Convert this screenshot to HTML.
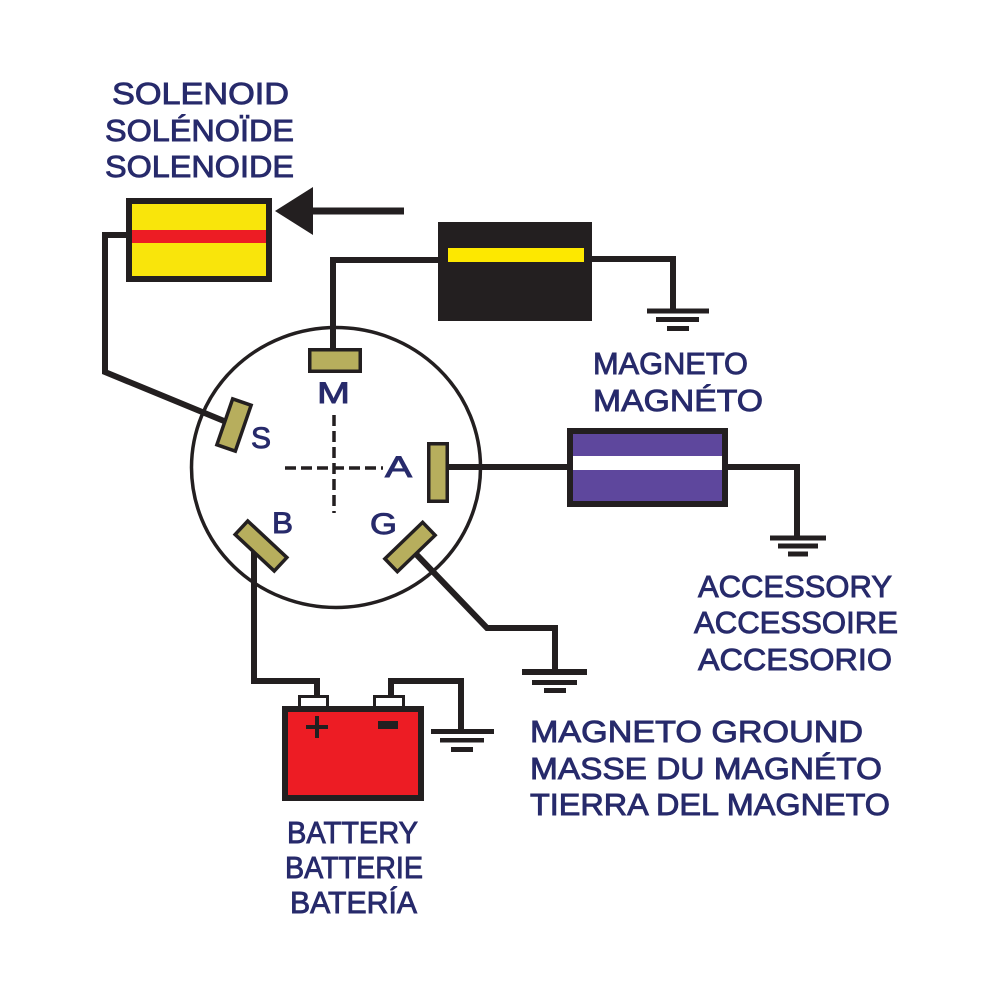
<!DOCTYPE html>
<html>
<head>
<meta charset="utf-8">
<style>
  html, body { margin:0; padding:0; background:#ffffff; }
  body { width:1000px; height:1000px; overflow:hidden; }
  svg { display:block; }
  .t { font-family:"Liberation Sans", "DejaVu Sans", sans-serif; font-size:31px; fill:#272a6b; stroke:#272a6b; stroke-width:0.9; }
  .l { font-family:"Liberation Sans", "DejaVu Sans", sans-serif; font-size:30px; fill:#272a6b; stroke:#272a6b; stroke-width:0.9; }
</style>
</head>
<body>
<svg width="1000" height="1000" viewBox="0 0 1000 1000" xmlns="http://www.w3.org/2000/svg">
  <rect x="0" y="0" width="1000" height="1000" fill="#ffffff"/>

  <!-- Labels -->
  <text class="t" x="112" y="104" textLength="177" lengthAdjust="spacingAndGlyphs">SOLENOID</text>
  <text class="t" x="105" y="141" textLength="189" lengthAdjust="spacingAndGlyphs">SOLÉNOÏDE</text>
  <text class="t" x="105" y="177" textLength="189" lengthAdjust="spacingAndGlyphs">SOLENOIDE</text>

  <text class="t" x="593" y="374" textLength="155" lengthAdjust="spacingAndGlyphs">MAGNETO</text>
  <text class="t" x="593" y="411" textLength="170" lengthAdjust="spacingAndGlyphs">MAGNÉTO</text>

  <text class="t" x="698" y="597" textLength="194" lengthAdjust="spacingAndGlyphs">ACCESSORY</text>
  <text class="t" x="694" y="633" textLength="204" lengthAdjust="spacingAndGlyphs">ACCESSOIRE</text>
  <text class="t" x="698" y="670" textLength="194" lengthAdjust="spacingAndGlyphs">ACCESORIO</text>

  <text class="t" x="530" y="742" textLength="333" lengthAdjust="spacingAndGlyphs">MAGNETO GROUND</text>
  <text class="t" x="530" y="779" textLength="352" lengthAdjust="spacingAndGlyphs">MASSE DU MAGNÉTO</text>
  <text class="t" x="530" y="815" textLength="360" lengthAdjust="spacingAndGlyphs">TIERRA DEL MAGNETO</text>

  <text class="t" x="287" y="843" textLength="131" lengthAdjust="spacingAndGlyphs">BATTERY</text>
  <text class="t" x="285" y="878" textLength="138" lengthAdjust="spacingAndGlyphs">BATTERIE</text>
  <text class="t" x="290" y="913" textLength="127" lengthAdjust="spacingAndGlyphs">BATERÍA</text>

  <!-- Wires -->
  <g fill="none" stroke="#231f20" stroke-width="6" stroke-linejoin="miter" stroke-linecap="butt">
    <path d="M128,235 H105 V372 L224,421"/>
    <path d="M333,352 V260 H442"/>
    <path d="M590,259 H673 V311"/>
    <path d="M447,467 H570"/>
    <path d="M726,467 H797 V538"/>
    <path d="M254,552 V681 H317 V697"/>
    <path d="M391,697 V681 H461 V731"/>
    <path d="M415,553 L487,628 H555 V671"/>
  </g>

  <!-- Arrow -->
  <polygon points="275,211 313,187 313,235" fill="#231f20"/>
  <rect x="310" y="207.5" width="94" height="7" fill="#231f20"/>

  <!-- Solenoid box -->
  <rect x="129" y="201" width="140" height="78" fill="#f9e50b" stroke="#231f20" stroke-width="6"/>
  <rect x="132" y="230" width="134" height="13" fill="#ed1c24"/>

  <!-- Black box -->
  <rect x="438" y="222" width="154" height="99" fill="#231f20"/>
  <rect x="448" y="248" width="136" height="14" fill="#fde800"/>

  <!-- Ground symbols -->
  <g fill="#231f20">
    <rect x="647" y="308.5" width="62" height="5"/>
    <rect x="656" y="317" width="43" height="5"/>
    <rect x="667" y="326" width="22" height="5"/>
    <rect x="770" y="535.5" width="56" height="5"/>
    <rect x="778" y="543.5" width="40" height="5"/>
    <rect x="788" y="551.5" width="20" height="5"/>
    <rect x="522" y="669" width="65" height="6"/>
    <rect x="532" y="680" width="45" height="5"/>
    <rect x="544" y="688" width="22" height="5"/>
    <rect x="431" y="729" width="63" height="5"/>
    <rect x="440" y="738" width="44" height="4.5"/>
    <rect x="451" y="747" width="22" height="5"/>
  </g>

  <!-- Magneto -->
  <rect x="570" y="431" width="155" height="73" fill="#5e479d" stroke="#231f20" stroke-width="6"/>
  <rect x="573" y="456" width="149" height="14" fill="#ffffff"/>

  <!-- Switch circle -->
  <ellipse cx="336" cy="467.5" rx="144.5" ry="140" fill="none" stroke="#231f20" stroke-width="3.5"/>

  <!-- crosshair -->
  <g stroke="#231f20" stroke-width="3.5" fill="none">
    <line x1="334" y1="415" x2="334" y2="513" stroke-dasharray="11 5"/>
    <line x1="285" y1="468" x2="383" y2="468" stroke-dasharray="11 5"/>
  </g>

  <!-- Terminals -->
  <g fill="#b7ae5d" stroke="#231f20" stroke-width="3.5">
    <rect x="309.75" y="349.75" width="50.5" height="21.5"/>
    <rect x="428.75" y="443.75" width="18.5" height="57.5"/>
    <rect x="-9.75" y="-24.25" width="19.5" height="48.5" transform="translate(234,425) rotate(19)"/>
    <rect x="-26.75" y="-9.25" width="53.5" height="18.5" transform="translate(261,546) rotate(43)"/>
    <rect x="-26.25" y="-9" width="52.5" height="18" transform="translate(410,547) rotate(-44)"/>
  </g>

  <!-- terminal letters -->
  <text class="l" x="317" y="403" textLength="33" lengthAdjust="spacingAndGlyphs">M</text>
  <text class="l" x="251" y="448" textLength="20" lengthAdjust="spacingAndGlyphs">S</text>
  <text class="l" x="385" y="477" textLength="27" lengthAdjust="spacingAndGlyphs">A</text>
  <text class="l" x="272" y="533" textLength="21" lengthAdjust="spacingAndGlyphs">B</text>
  <text class="l" x="370" y="534" textLength="27" lengthAdjust="spacingAndGlyphs">G</text>

  <!-- Battery -->
  <rect x="299.5" y="696.5" width="28" height="11" fill="#ffffff" stroke="#231f20" stroke-width="3"/>
  <rect x="374.5" y="696.5" width="29" height="11" fill="#ffffff" stroke="#231f20" stroke-width="3"/>
  <rect x="285" y="709" width="136" height="89" fill="#ed1c24" stroke="#231f20" stroke-width="6"/>
  <rect x="306" y="725" width="22" height="4" fill="#231f20"/>
  <rect x="315" y="716" width="4" height="22" fill="#231f20"/>
  <rect x="378" y="721" width="20" height="8" fill="#231f20"/>
</svg>
</body>
</html>
